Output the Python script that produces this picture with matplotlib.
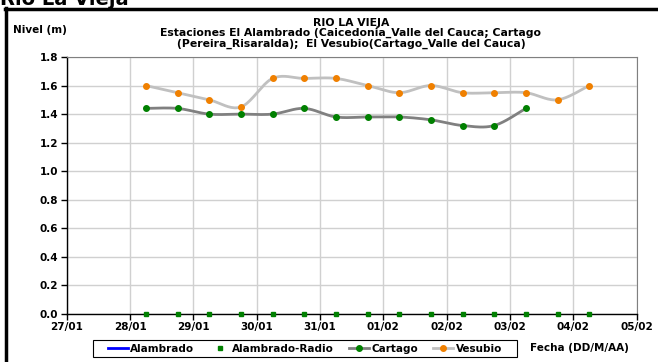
import numpy as np
import pandas as pd
import matplotlib
matplotlib.use("Agg")
import matplotlib.pyplot as plt
import matplotlib.dates as mdates
from matplotlib.lines import Line2D
from matplotlib.patches import Rectangle

plt.rcParams['font.family'] = ['DejaVu Sans']
plt.rcParams['font.weight'] = 'bold'

# --- data -------------------------------------------------------------
radio_times = pd.date_range("2011-01-28 06:00", periods=15, freq="12h")
radio_vals = [0.0] * 15

cartago_times = pd.date_range("2011-01-28 06:00", periods=13, freq="12h")
cartago_vals = [1.44, 1.44, 1.40, 1.40, 1.40, 1.44, 1.38, 1.38, 1.38,
                1.36, 1.32, 1.32, 1.44]

vesubio_times = pd.date_range("2011-01-28 06:00", periods=15, freq="12h")
vesubio_vals = [1.60, 1.55, 1.50, 1.45, 1.65, 1.65, 1.65, 1.60, 1.55,
                1.60, 1.55, 1.55, 1.55, 1.50, 1.60]

alambrado_times = []
alambrado_vals = []

x_ticks = pd.date_range("2011-01-27", "2011-02-05", freq="D")
y_ticks = [0.0, 0.2, 0.4, 0.6, 0.8, 1.0, 1.2, 1.4, 1.6, 1.8]


def smooth(x, y, n=20):
    """Cardinal (Catmull-Rom style) spline through the points."""
    x = np.asarray(x, float)
    y = np.asarray(y, float)
    if len(x) < 3:
        return x, y
    px = np.concatenate([[x[0]], x, [x[-1]]])
    py = np.concatenate([[y[0]], y, [y[-1]]])
    xs, ys = [], []
    t = np.linspace(0, 1, n, endpoint=False)
    for i in range(1, len(px) - 2):
        p0, p1, p2, p3 = (np.array([px[j], py[j]]) for j in (i - 1, i, i + 1, i + 2))
        c1 = p1 + (p2 - p0) / 6.0
        c2 = p2 - (p3 - p1) / 6.0
        b = ((1 - t) ** 3)[:, None] * p1 + (3 * (1 - t) ** 2 * t)[:, None] * c1 \
            + (3 * (1 - t) * t ** 2)[:, None] * c2 + (t ** 3)[:, None] * p2
        xs.extend(b[:, 0]); ys.extend(b[:, 1])
    xs.append(x[-1]); ys.append(y[-1])
    return np.array(xs), np.array(ys)


W, H = 658, 362
fig = plt.figure(figsize=(W / 100, H / 100), dpi=100)
ax = fig.add_axes([66.7 / W, 1 - 314 / H, (636.7 - 66.7) / W, (314 - 57) / H])

# grid
ax.set_axisbelow(True)
ax.grid(True, color="#D0D0D0", linewidth=1.0)

# series
ax.plot(alambrado_times, alambrado_vals, color="#0000FF", linewidth=2)
ax.plot(radio_times, radio_vals, linestyle="none", marker="s",
        markersize=2.2, color="#008000", zorder=4, clip_on=False)

cx, cy = smooth(mdates.date2num(cartago_times), cartago_vals)
ax.plot(cx, cy, color="#808080", linewidth=2, zorder=3)
ax.plot(cartago_times, cartago_vals, linestyle="none", marker="o",
        markersize=4, color="#008000", zorder=5)

vx, vy = smooth(mdates.date2num(vesubio_times), vesubio_vals)
ax.plot(vx, vy, color="#C0C0C0", linewidth=2, zorder=3)
ax.plot(vesubio_times, vesubio_vals, linestyle="none", marker="o",
        markersize=4, color="#F08000", zorder=5)

# axes
ax.set_xlim(x_ticks[0], x_ticks[-1])
ax.set_ylim(0, 1.8)
ax.set_xticks(x_ticks)
ax.xaxis.set_major_formatter(mdates.DateFormatter("%d/%m"))
ax.set_yticks(y_ticks)
ax.set_yticklabels([f"{v:.1f}" for v in y_ticks])
ax.tick_params(axis="both", labelsize=7.5, length=4, width=1, color="black",
               direction="out", pad=2)
for lab in ax.get_xticklabels() + ax.get_yticklabels():
    lab.set_fontweight("bold")
ax.spines["left"].set_color("black")
ax.spines["bottom"].set_color("black")
ax.spines["left"].set_linewidth(1)
ax.spines["bottom"].set_linewidth(1)
ax.spines["top"].set_color("#808080")
ax.spines["right"].set_color("#808080")

# titles and labels
fig.text(351 / W, 1 - 33.5 / H,
         "RIO LA VIEJA\nEstaciones El Alambrado (Caicedonia_Valle del Cauca; Cartago\n"
         "(Pereira_Risaralda);  El Vesubio(Cartago_Valle del Cauca)",
         ha="center", va="center", fontsize=7.8, fontweight="bold",
         linespacing=1.0)
fig.text(13 / W, 1 - 30 / H, "Nivel (m)", ha="left", va="center",
         fontsize=7.5, fontweight="bold")
fig.text(530 / W, 1 - 348 / H, "Fecha (DD/M/AA)", ha="left", va="center",
         fontsize=7.5, fontweight="bold")
fig.text(0.0, 1 - 5 / H, "Rio La Vieja", ha="left", va="baseline",
         fontsize=14, fontweight="bold")

# chart frame (left and top edges)
fig.add_artist(Line2D([6 / W, 6 / W], [0, 1 - 8 / H], color="black",
                      linewidth=2.5, transform=fig.transFigure))
fig.add_artist(Line2D([5 / W, 1], [1 - 9 / H, 1 - 9 / H], color="black",
                      linewidth=2.5, transform=fig.transFigure))

# legend
handles = [
    Line2D([], [], color="#0000FF", linewidth=2),
    Line2D([], [], linestyle="none", marker="s", markersize=2.2, color="#008000"),
    Line2D([], [], color="#808080", linewidth=2, marker="o", markersize=4,
           markerfacecolor="#008000", markeredgecolor="#008000"),
    Line2D([], [], color="#C0C0C0", linewidth=2, marker="o", markersize=4,
           markerfacecolor="#F08000", markeredgecolor="#F08000"),
]
labels = ["Alambrado", "Alambrado-Radio", "Cartago", "Vesubio"]
leg = fig.legend(handles, labels, loc="center", ncol=4,
                 bbox_to_anchor=(305 / W, 1 - 348.5 / H),
                 prop={"size": 7.5, "weight": "bold"}, frameon=False,
                 handlelength=1.9, handletextpad=0.25, columnspacing=1.45,
                 borderpad=0.3)
fig.add_artist(Rectangle((93 / W, 1 - 357 / H), (517 - 93) / W, 17 / H,
                         transform=fig.transFigure, facecolor="none",
                         edgecolor="black", linewidth=0.8, zorder=0))

fig.savefig("out.png", dpi=100)
